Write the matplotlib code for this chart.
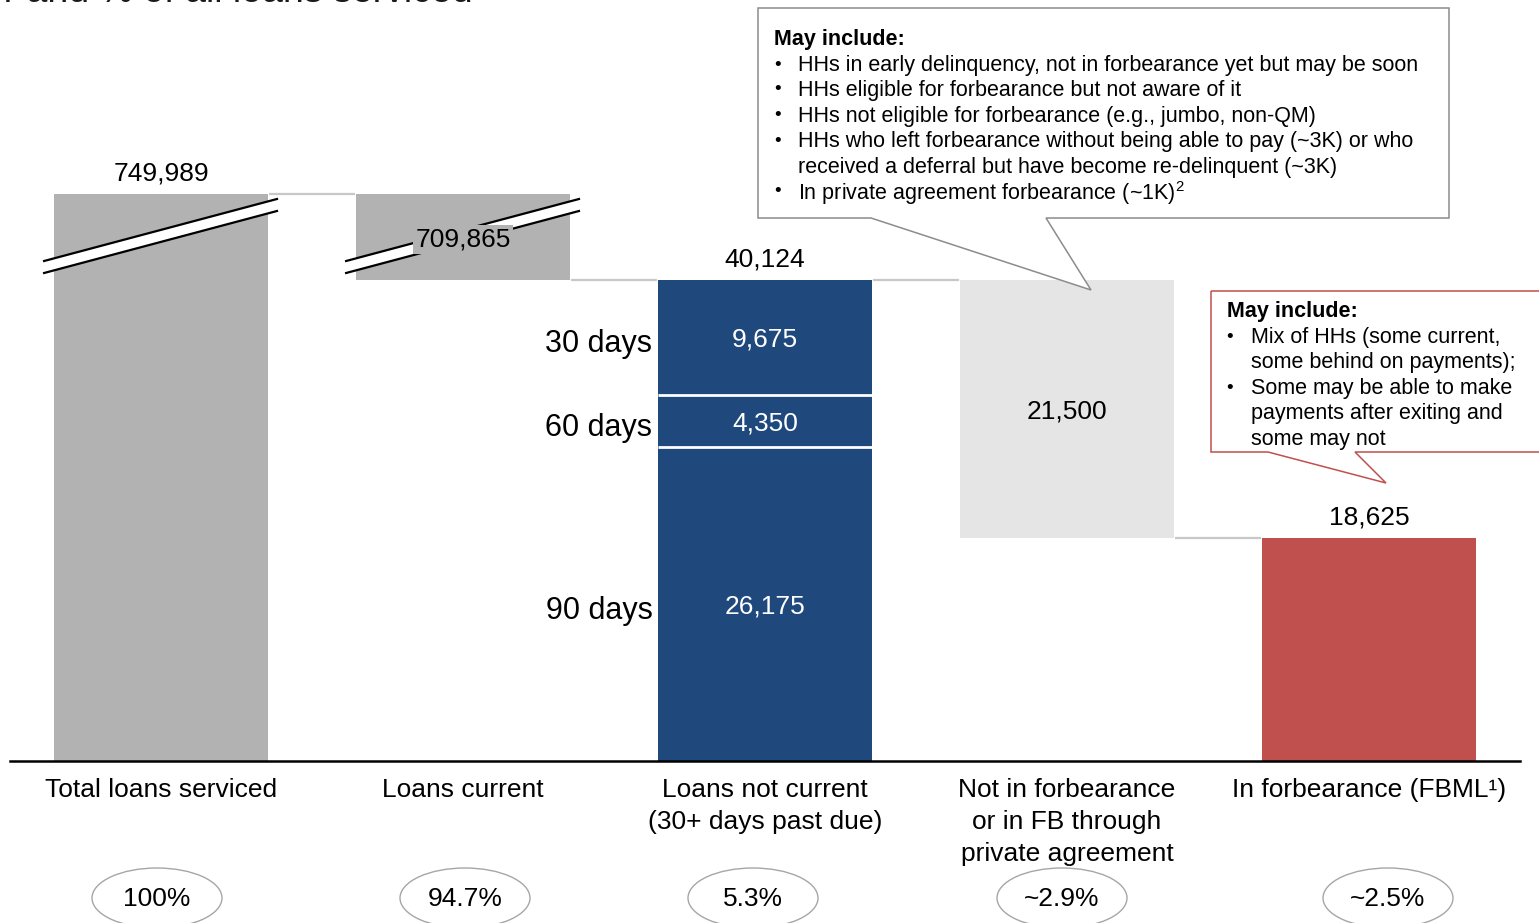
import numpy as np
import matplotlib
matplotlib.use("Agg")
import matplotlib.pyplot as plt
from matplotlib.patches import Polygon, Ellipse
from matplotlib.transforms import blended_transform_factory

plt.rcParams["font.family"] = ["Liberation Sans", "DejaVu Sans"]
plt.rcParams["mathtext.fontset"] = "custom"
plt.rcParams["mathtext.rm"] = "Liberation Sans"
plt.rcParams["mathtext.it"] = "Liberation Sans:italic"
plt.rcParams["mathtext.bf"] = "Liberation Sans:bold"

# ---------------- data ----------------
categories = [
    "Total loans serviced",
    "Loans current",
    "Loans not current\n(30+ days past due)",
    "Not in forbearance\nor in FB through\nprivate agreement",
    "In forbearance (FBML\u00b9)",
]
total_loans = 749989
loans_current = 709865
loans_not_current = 40124
delinquency_buckets = ["90 days", "60 days", "30 days"]
delinquency_values = [26175, 4350, 9675]
not_in_forbearance = 21500
in_forbearance = 18625
share_labels = ["100%", "94.7%", "5.3%", "~2.9%", "~2.5%"]

callout_fb_title = "May include:"
callout_fb_lines = [
    ("\u2022", "HHs in early delinquency, not in forbearance yet but may be soon"),
    ("\u2022", "HHs eligible for forbearance but not aware of it"),
    ("\u2022", "HHs not eligible for forbearance (e.g., jumbo, non-QM)"),
    ("\u2022", "HHs who left forbearance without being able to pay (~3K) or who"),
    ("", "received a deferral but have become re-delinquent (~3K)"),
    ("\u2022", "In private agreement forbearance (~1K)$^{2}$"),
]
callout_fbml_title = "May include:"
callout_fbml_lines = [
    ("\u2022", "Mix of HHs (some current,"),
    ("", "some behind on payments);"),
    ("\u2022", "Some may be able to make"),
    ("", "payments after exiting and"),
    ("", "some may not"),
]
title_text = "Number and % of all loans serviced"

# ---------------- style ----------------
W, H = 1539, 923
GRAY = "#b2b2b2"
BLUE = "#1f497d"
LIGHT = "#e5e5e5"
RED = "#c0504d"
CONNECT = "#c8c8c8"
BAR_W = 0.709
BAND = 7173  # display height given to the compressed (broken) part of the axis

B = loans_not_current
T = total_loans
k = BAND / (T - B)


def fwd(v):
    v = np.asarray(v, dtype=float)
    return np.where(v <= B, v, np.where(v <= T, B + (v - B) * k, B + BAND + (v - T)))


def inv(d):
    d = np.asarray(d, dtype=float)
    return np.where(d <= B, d, np.where(d <= B + BAND, B + (d - B) / k, T + (d - B - BAND)))


def fx(px):
    return px / W


def fy(py):
    return 1 - py / H


fig = plt.figure(figsize=(W / 100, H / 100), dpi=100)
ax_top_px, ax_bot_px = 10, 761
ax = fig.add_axes([fx(10), fy(ax_bot_px), 1510 / W, (ax_bot_px - ax_top_px) / H])
ax.set_yscale("function", functions=(fwd, inv))
display_top = B * (ax_bot_px - ax_top_px) / 481.0
ax.set_ylim(0, float(inv(display_top)))
ax.set_xlim(-0.5, 4.5)
for s in ["left", "right", "top"]:
    ax.spines[s].set_visible(False)
ax.spines["bottom"].set_linewidth(1.8)
ax.spines["bottom"].set_color("black")
ax.set_yticks([])
ax.set_xticks(range(5))
ax.set_xticklabels(categories, fontsize=19, linespacing=1.42)
ax.tick_params(axis="x", length=0, pad=12)

# bars
ax.bar(0, total_loans, width=BAR_W, color=GRAY, zorder=2)
ax.bar(1, loans_current, bottom=total_loans - loans_current, width=BAR_W, color=GRAY, zorder=2)
hw = BAR_W / 2
bottom = 0
seg_centers = []
for j, val in enumerate(delinquency_values):
    ax.bar(2, val, bottom=bottom, width=BAR_W, color=BLUE, linewidth=0, zorder=2)
    seg_centers.append(bottom + val / 2)
    if j > 0:
        ax.plot([2 - hw, 2 + hw], [bottom, bottom], color="white", lw=2, zorder=3,
                solid_capstyle="butt")
    bottom += val
ax.bar(3, not_in_forbearance, bottom=in_forbearance, width=BAR_W, color=LIGHT, zorder=2)
ax.bar(4, in_forbearance, width=BAR_W, color=RED, zorder=2)

# connectors
conn = [(0, total_loans), (1, total_loans - loans_current),
        (2, loans_not_current), (3, in_forbearance)]
for i, yv in conn:
    ax.plot([i + hw + 0.003, i + 1 - hw - 0.003], [yv, yv], color=CONNECT, lw=1.6,
            zorder=1, solid_capstyle="butt")

# axis-break marks on the two large bars
trans_b = blended_transform_factory(ax.transData, ax.transAxes)


def yfrac(py):
    return (ax_bot_px - py) / (ax_bot_px - ax_top_px)


for i in (0, 1):
    x0, x1 = i - 0.387, i + 0.384
    up = [(x0, yfrac(261)), (x1, yfrac(199))]
    lo = [(x0, yfrac(273)), (x1, yfrac(211))]
    band = Polygon([up[0], up[1], lo[1], lo[0]], closed=True, facecolor="white",
                   edgecolor="none", transform=trans_b, zorder=3)
    ax.add_patch(band)
    for ln in (up, lo):
        ax.plot([ln[0][0], ln[1][0]], [ln[0][1], ln[1][1]], color="black", lw=1.6,
                transform=trans_b, zorder=4, clip_on=False)

# value labels
for i, yv, txt in [(0, total_loans, "749,989"), (2, loans_not_current, "40,124"),
                   (4, in_forbearance, "18,625")]:
    ax.annotate(txt, (i, yv), xytext=(0, 6), textcoords="offset points",
                ha="center", va="bottom", fontsize=19, zorder=5)
mid_cur = float(inv((fwd(T) + fwd(B)) / 2))
ax.text(1, mid_cur, f"{loans_current:,}", ha="center", va="center_baseline", fontsize=19,
        zorder=5, bbox=dict(facecolor=GRAY, edgecolor="none", pad=1.5))
ax.text(3, in_forbearance + not_in_forbearance / 2, f"{not_in_forbearance:,}",
        ha="center", va="center_baseline", fontsize=19, zorder=5)
for name, val, yc in zip(delinquency_buckets, delinquency_values, seg_centers):
    ax.text(2, yc, f"{val:,}", ha="center", va="center_baseline", fontsize=19,
            color="white", zorder=5)
    ax.annotate(name, (2 - hw, yc), xytext=(-4, -2.5), textcoords="offset points",
                ha="right", va="center_baseline", fontsize=22, zorder=5)

# share ellipses
share_x_px = [157, 465, 753, 1062, 1388]
for xp, lab in zip(share_x_px, share_labels):
    e = Ellipse((fx(xp), fy(898)), 130 / W, 60 / H, transform=fig.transFigure,
                facecolor="white", edgecolor="#a6a6a6", lw=1.0)
    fig.add_artist(e)
    fig.text(fx(xp), fy(899), lab, ha="center", va="center", fontsize=19)


# callouts
def callout(pts_px, edge, z):
    pts = [(fx(x), fy(y)) for x, y in pts_px]
    fill = Polygon(pts, closed=True, facecolor="white", edgecolor="none",
                   transform=fig.transFigure, zorder=z)
    fig.add_artist(fill)
    outline = Polygon(pts, closed=True, facecolor="none", edgecolor=edge, lw=1.1,
                      transform=fig.transFigure, zorder=6)
    fig.add_artist(outline)


callout([(758, 8), (1449, 8), (1449, 218), (1046, 218), (1091, 290), (871, 218),
         (758, 218)], "#8c8c8c", 1)
callout([(1211, 291), (1548, 291), (1548, 452), (1355, 452), (1386, 483),
         (1268, 452), (1211, 452)], RED, 1)

ANN = 15.5
fig.text(fx(774), fy(37), callout_fb_title, fontsize=ANN, fontweight="bold",
         va="center_baseline", ha="left", zorder=7)
for (b, t), yp in zip(callout_fb_lines, [63, 88, 114, 139, 165, 190]):
    if b:
        fig.text(fx(774), fy(yp), b, fontsize=ANN - 2, va="center_baseline", ha="left",
                 zorder=7)
    fig.text(fx(798), fy(yp), t, fontsize=ANN, va="center_baseline", ha="left", zorder=7)

fig.text(fx(1227), fy(309), callout_fbml_title, fontsize=ANN, fontweight="bold",
         va="center_baseline", ha="left", zorder=7)
for (b, t), yp in zip(callout_fbml_lines, [335, 360, 386, 411, 437]):
    if b:
        fig.text(fx(1226), fy(yp), b, fontsize=ANN - 2, va="center_baseline", ha="left",
                 zorder=7)
    fig.text(fx(1251), fy(yp), t, fontsize=ANN, va="center_baseline", ha="left", zorder=7)

# title (runs off the top edge)
fig.text(fx(473), fy(2), title_text, fontsize=27, ha="right", va="baseline",
         color="#1a1a1a")

fig.savefig("out.png", dpi=100)
